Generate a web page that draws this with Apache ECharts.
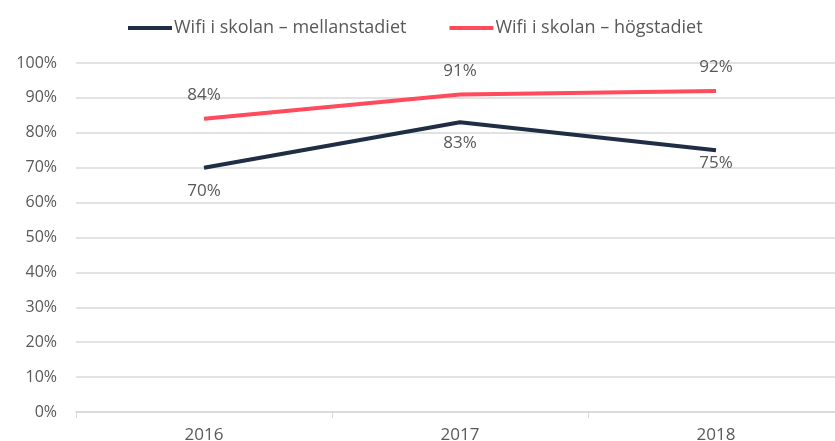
<!DOCTYPE html>
<html>
<head>
<meta charset="utf-8">
<script src="https://cdn.jsdelivr.net/npm/echarts@6/dist/echarts.min.js"></script>
<style>
  html, body { margin: 0; padding: 0; background: #fff; }
  #chart { width: 835px; height: 441px; }
</style>
</head>
<body>
<div id="chart"></div>
<script>
const years = ['2016', '2017', '2018'];
const mellanstadiet = [70, 83, 75];
const hogstadiet = [84, 91, 92];
const seriesNames = ['Wifi i skolan – mellanstadiet', 'Wifi i skolan – högstadiet'];

const FONT = 'Open Sans';
const TEXT = '#595959';
const NAVY = '#1f2d45';
const RED = '#ff4b5c';

// label gap per point (the original places some labels closer to the line)
const navyLabelGap = [15, 12, 4];
const redLabelGap = [15, 15, 15];

const chart = echarts.init(document.getElementById('chart'));

function lineSeries(name, values, gaps, color, pos) {
  return {
    name: name,
    type: 'line',
    data: values.map((v, i) => ({ value: v, label: { distance: gaps[i] } })),
    symbol: 'circle',
    symbolSize: 0,
    showSymbol: true,
    lineStyle: { color: color, width: 4 },
    itemStyle: { color: color },
    label: {
      show: true,
      position: pos,
      color: TEXT,
      fontSize: 17,
      fontFamily: FONT,
      formatter: p => Math.round(p.value) + '%'
    }
  };
}

chart.setOption({
  animation: false,
  textStyle: { fontFamily: FONT },
  legend: {
    top: 14,
    left: 123,
    itemGap: 43,
    itemWidth: 44,
    itemHeight: 4,
    icon: 'rect',
    textStyle: { color: TEXT, fontSize: 18, fontFamily: FONT, padding: [0, 0, 0, -3] },
    data: seriesNames
  },
  grid: { left: 76, right: -9, top: 63, bottom: 29, containLabel: false, outerBoundsMode: 'none' },
  xAxis: {
    type: 'category',
    data: years,
    boundaryGap: true,
    axisLine: { lineStyle: { color: '#d9d9d9', width: 1.5 } },
    axisTick: { show: true, length: 6, lineStyle: { color: '#d9d9d9' } },
    axisLabel: { color: TEXT, fontSize: 17, margin: 15 }
  },
  yAxis: {
    type: 'value',
    min: 0,
    max: 100,
    interval: 10,
    axisLine: { show: false },
    axisTick: { show: false },
    axisLabel: { color: TEXT, fontSize: 16, margin: 19, formatter: v => v + '%' },
    splitLine: { lineStyle: { color: '#d9d9d9', width: 1.5 } }
  },
  series: [
    lineSeries(seriesNames[0], mellanstadiet, navyLabelGap, NAVY, 'bottom'),
    lineSeries(seriesNames[1], hogstadiet, redLabelGap, RED, 'top')
  ]
});
</script>
</body>
</html>
